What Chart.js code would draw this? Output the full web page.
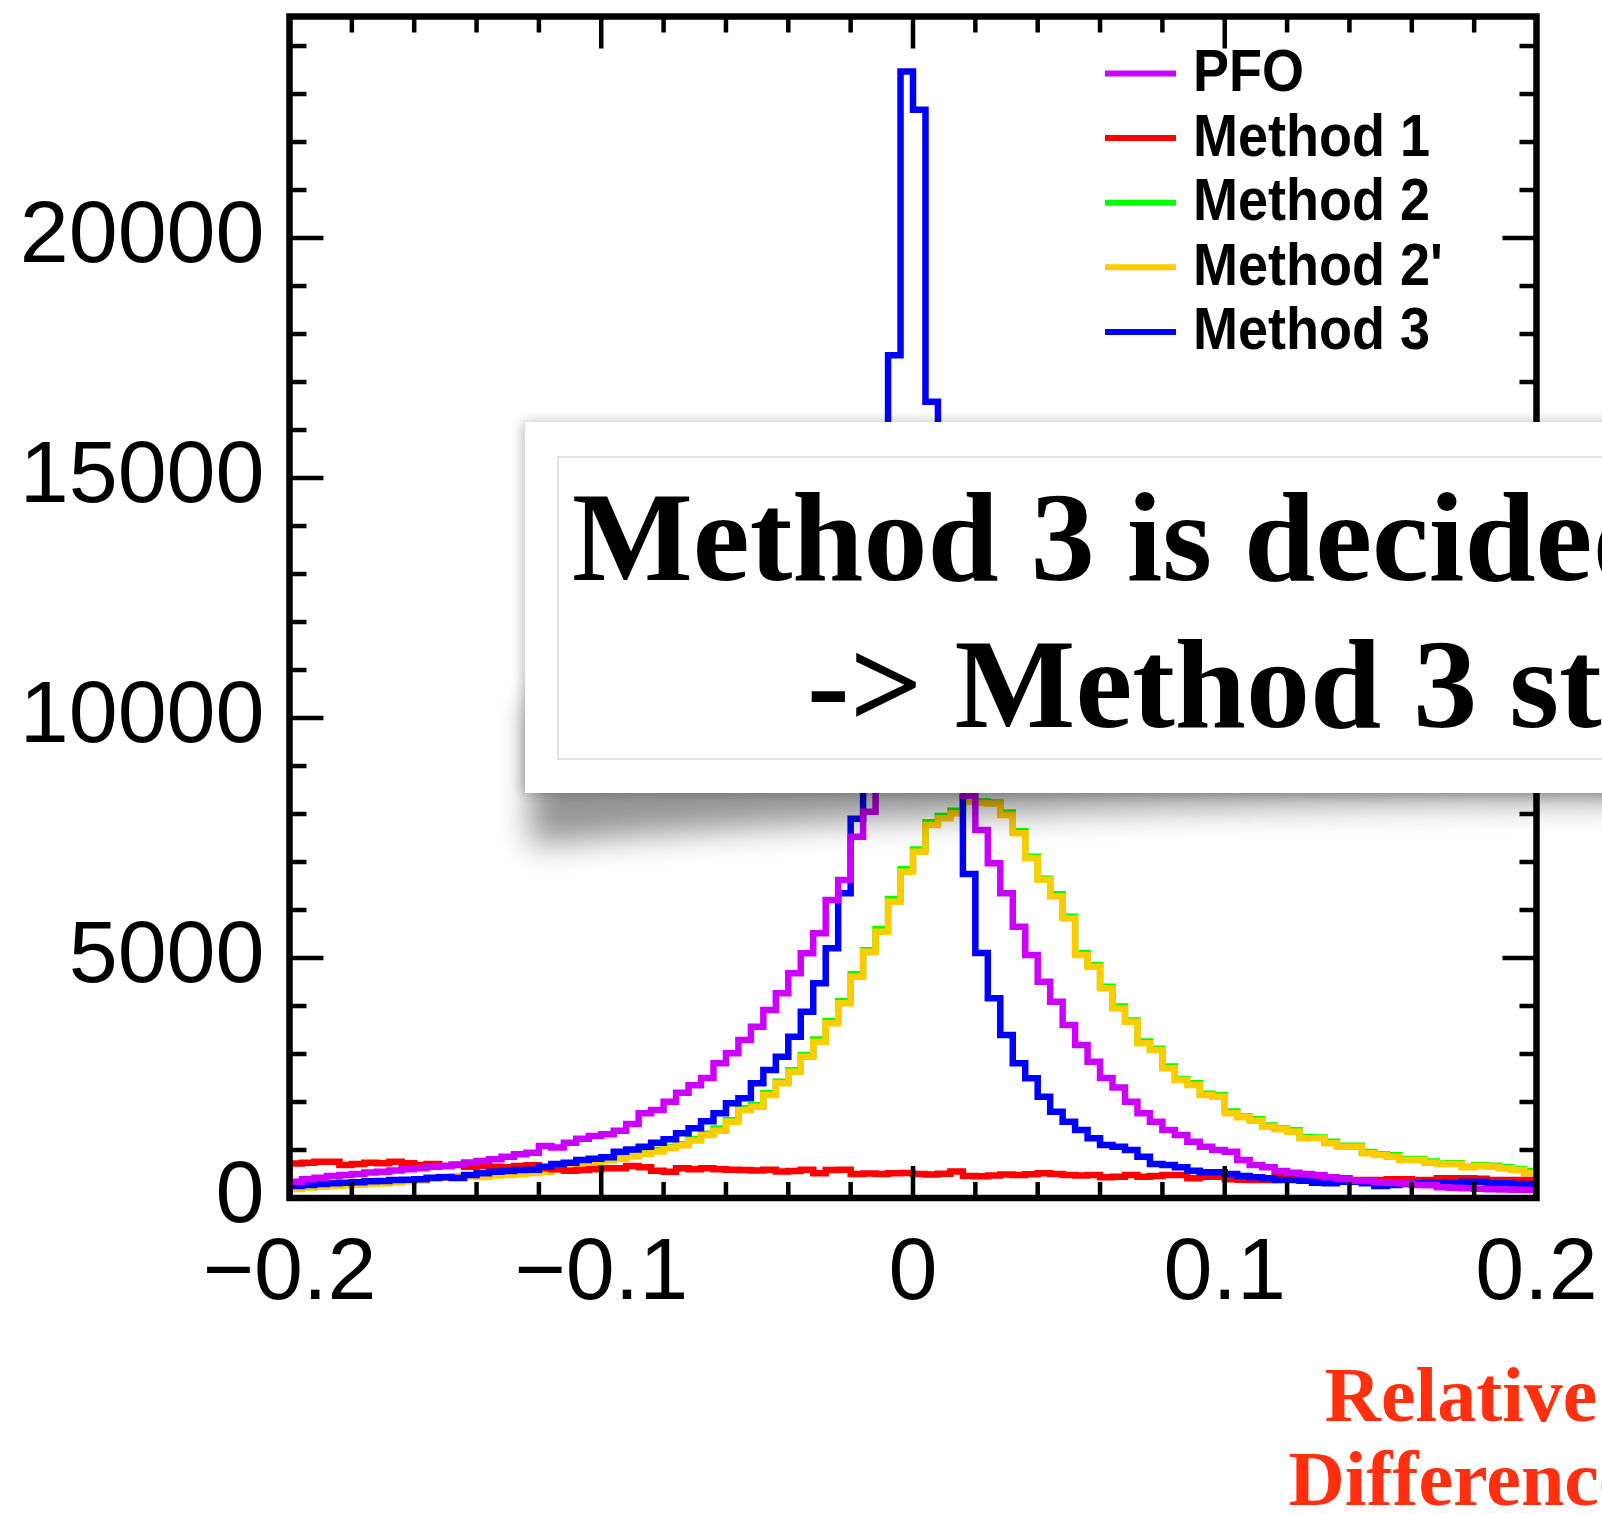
<!DOCTYPE html>
<html>
<head>
<meta charset="utf-8">
<script src="https://cdn.jsdelivr.net/npm/chart.js@4.4.1/dist/chart.umd.min.js"></script>
<style>
html, body { margin: 0; padding: 0; background: #fff; overflow: hidden; }
</style>
</head>
<body>
<canvas id="canva" width="1602" height="1513"></canvas>
<script>
const ctx = document.getElementById('canva');

// histogram range, 100 bins
const xLow = -0.2;
const xHigh = 0.2;

const xTickValues = [-0.2, -0.1, 0, 0.1, 0.2];
const xTickLabels = ['\u22120.2', '\u22120.1', '0', '0.1', '0.2'];
const yTickValues = [0, 5000, 10000, 15000, 20000];
const yTickLabels = ['0', '5000', '10000', '15000', '20000'];

const seriesNames = ['PFO', 'Method 1', 'Method 2', "Method 2'", 'Method 3'];
const seriesColors = ['#cc00ff', '#ff0000', '#00ff00', '#ffcc00', '#0000ff'];

const pfo = [340, 390, 420, 458, 480, 500, 530, 549, 575, 600,
  618, 650, 667, 700, 740, 770, 805, 861, 910, 944,
  1083, 1050, 1153, 1236, 1290, 1330, 1403, 1542, 1764, 1833,
  2007, 2194, 2350, 2500, 2806, 3014, 3292, 3570, 3917, 4264,
  4681, 5098, 5514, 6209, 6625, 7528, 8049, 9300, 10600, 11800,
  12300, 11900, 10700, 9400, 8380, 7667, 6972, 6347, 5653, 5063,
  4507, 4090, 3604, 3188, 2840, 2500, 2300, 2007, 1764, 1590,
  1417, 1313, 1174, 1069, 1000, 965, 792, 688, 639, 563,
  528, 500, 472, 431, 396, 361, 355, 330, 319, 300,
  271, 265, 222, 215, 201, 195, 181, 178, 170, 165];

const method1 = [720, 736, 757, 757, 687, 708, 736, 722, 757, 722,
  687, 708, 667, 687, 653, 667, 653, 639, 667, 680,
  618, 597, 569, 583, 597, 618, 618, 667, 639, 569,
  549, 618, 597, 620, 600, 590, 584, 575, 590, 550,
  560, 590, 514, 584, 590, 500, 510, 500, 514, 520,
  500, 490, 505, 550, 460, 455, 470, 490, 480, 495,
  514, 500, 480, 470, 480, 430, 445, 480, 445, 458,
  480, 480, 410, 445, 445, 390, 380, 375, 375, 445,
  445, 445, 445, 410, 410, 375, 375, 375, 389, 389,
  375, 375, 410, 410, 410, 400, 375, 375, 375, 375];

const method2 = [200, 225, 240, 255, 270, 280, 300, 312, 335, 360,
  375, 405, 440, 450, 460, 455, 480, 490, 510, 530,
  570, 610, 660, 680, 740, 790, 840, 900, 940, 1000,
  1060, 1120, 1230, 1340, 1450, 1620, 1870, 1930, 2180, 2420,
  2660, 2980, 3300, 3690, 4100, 4660, 5160, 5600, 6230, 6850,
  7260, 7830, 7960, 8070, 8290, 8260, 8240, 8030, 7640, 7110,
  6650, 6330, 5860, 5100, 4850, 4400, 3990, 3700, 3260, 3110,
  2740, 2480, 2390, 2170, 2140, 1800, 1700, 1640, 1510, 1450,
  1410, 1270, 1260, 1170, 1090, 1090, 960, 910, 890, 810,
  810, 760, 720, 725, 650, 690, 670, 640, 600, 560];

const method2p = [190, 220, 236, 250, 265, 275, 290, 306, 330, 350,
  365, 395, 420, 440, 455, 440, 470, 480, 500, 520,
  549, 600, 640, 660, 720, 780, 820, 870, 920, 970,
  1040, 1100, 1200, 1310, 1400, 1591, 1834, 1903, 2146, 2389,
  2632, 2945, 3257, 3639, 4056, 4612, 5132, 5549, 6174, 6799,
  7216, 7771, 7910, 8014, 8257, 8230, 8220, 7980, 7600, 7080,
  6630, 6280, 5830, 5060, 4820, 4370, 3950, 3674, 3222, 3083,
  2701, 2458, 2354, 2146, 2111, 1764, 1681, 1611, 1486, 1431,
  1382, 1243, 1243, 1139, 1069, 1069, 931, 896, 861, 792,
  792, 736, 708, 708, 639, 667, 653, 618, 583, 514];

const method3 = [250, 271, 290, 306, 320, 326, 350, 354, 375, 380,
  390, 420, 430, 415, 479, 514, 549, 560, 583, 590,
  653, 708, 736, 792, 820, 847, 965, 1012, 1069, 1153,
  1222, 1347, 1451, 1600, 1764, 1972, 2076, 2389, 2667, 2944,
  3361, 3882, 4472, 5201, 6347, 7900, 9600, 12800, 17560, 23470,
  22670, 16590, 12300, 9100, 6750, 5104, 4160, 3396, 2806, 2493,
  2111, 1799, 1590, 1417, 1243, 1104, 1070, 1000, 861, 709,
  688, 639, 570, 535, 535, 500, 459, 431, 410, 375,
  375, 361, 320, 306, 340, 340, 306, 250, 271, 292,
  306, 320, 320, 306, 340, 340, 306, 306, 292, 292];

const allSeries = [pfo, method1, method2, method2p, method3];
// drawing order: magenta on top, green at the bottom
const drawOrder = [0, 2, 4, 3, 1];

// turn bin contents into step points (left edge of every bin + closing edges)
function histPoints(counts) {
  var w = (xHigh - xLow) / counts.length;
  var pts = [{x: xLow, y: 0}];
  counts.forEach((c, i) => pts.push({x: xLow + i * w, y: c}));
  pts.push({x: xHigh, y: counts[counts.length - 1]});
  pts.push({x: xHigh, y: 0});
  return pts;
}

var datasets = allSeries.map((s, i) => ({
  label: seriesNames[i],
  data: histPoints(s),
  borderColor: seriesColors[i],
  borderWidth: 6.5,
  stepped: 'before',
  pointRadius: 0,
  fill: false,
  tension: 0,
  borderJoinStyle: 'miter',
  order: drawOrder[i]
}));

function seg(c, x1, y1, x2, y2) {
  c.beginPath();
  c.moveTo(x1, y1);
  c.lineTo(x2, y2);
  c.stroke();
}

// frame and inward ticks on all four sides
const framePlugin = {
  id: 'frame',
  afterDatasetsDraw(chart) {
    const c = chart.ctx;
    const a = chart.chartArea;
    const sx = chart.scales.x, sy = chart.scales.y;
    c.save();
    c.strokeStyle = '#000';
    c.lineWidth = 4.5;
    for (let i = 0; i <= 20; i++) {
      const px = sx.getPixelForValue(xLow + i * 0.02);
      const len = i % 5 === 0 ? 32 : 16;
      seg(c, px, a.bottom, px, a.bottom - len);
      seg(c, px, a.top, px, a.top + len);
    }
    for (let v = 0; v <= 24000; v += 1000) {
      const py = sy.getPixelForValue(v);
      const len = v % 5000 === 0 ? 34 : 17;
      seg(c, a.left, py, a.left + len, py);
      seg(c, a.right, py, a.right - len, py);
    }
    c.lineWidth = 6.5;
    c.strokeRect(a.left, a.top, a.right - a.left, a.bottom - a.top);
    c.restore();
  },
  afterDraw(chart) {
    const c = chart.ctx;
    c.save();

    // legend, top right inside the frame
    chart.data.datasets.forEach((ds, i) => {
      const yy = 73.5 + i * 64.6;
      c.strokeStyle = ds.borderColor;
      c.lineWidth = 6;
      seg(c, 1105, yy, 1176, yy);
      c.save();
      c.translate(1193, yy + 1);
      c.scale(0.9, 1);
      c.fillStyle = '#000';
      c.font = 'bold 60px "Liberation Sans", Arial, sans-serif';
      c.textBaseline = 'middle';
      c.fillText(ds.label, 0, 0);
      c.restore();
    });

    // curled shadow under the text box
    c.save();
    c.shadowColor = 'rgba(0,0,0,0.42)';
    c.shadowBlur = 32;
    c.shadowOffsetY = 3000;
    c.fillStyle = '#000';
    c.beginPath();
    c.moveTo(530, 700 - 3000);
    c.lineTo(1640, 700 - 3000);
    c.lineTo(1640, 800 - 3000);
    c.quadraticCurveTo(950, 803 - 3000, 530, 845 - 3000);
    c.closePath();
    c.fill();
    c.restore();

    // white box
    c.save();
    c.shadowColor = 'rgba(0,0,0,0.28)';
    c.shadowBlur = 12;
    c.shadowOffsetX = -2;
    c.fillStyle = '#fff';
    c.fillRect(525, 422, 1200, 371);
    c.restore();
    c.strokeStyle = '#e4e4e4';
    c.lineWidth = 2;
    c.strokeRect(558, 457, 1200, 302);

    c.fillStyle = '#000';
    c.font = 'bold 128px "Liberation Serif", "Times New Roman", serif';
    c.textBaseline = 'alphabetic';
    c.fillText('Method 3 is decided', 572, 580);
    c.fillText('-> Method 3 st', 807, 727);

    // axis title, red
    c.fillStyle = '#ff3010';
    c.font = 'bold 78px "Liberation Serif", "Times New Roman", serif';
    c.textAlign = 'center';
    c.fillText('Relative', 1461, 1421);
    c.fillText('Difference', 1461, 1505);
    c.restore();
  }
};

const tickFont = {family: '"Liberation Sans", Arial, sans-serif', size: 88};

canva = new Chart(ctx, {
  type: 'line',
  data: { datasets: datasets },
  options: {
    responsive: false,
    animation: false,
    devicePixelRatio: 1,
    events: [],
    layout: { padding: { left: 0, right: 65.5, top: 16.5, bottom: 0 } },
    plugins: {
      legend: { display: false },
      tooltip: { enabled: false },
      title: { display: false }
    },
    scales: {
      x: {
        type: 'linear',
        min: xLow,
        max: xHigh,
        afterBuildTicks: s => { s.ticks = xTickValues.map(v => ({value: v})); },
        afterFit: s => { s.height = 315; s.paddingLeft = 0; s.paddingRight = 0; },
        grid: { display: false, drawTicks: false },
        border: { display: false },
        ticks: {
          autoSkip: false,
          maxRotation: 0,
          padding: 24,
          color: '#000',
          font: tickFont,
          callback: (v, i) => xTickLabels[i]
        }
      },
      y: {
        min: 0,
        max: 24615,
        afterBuildTicks: s => { s.ticks = yTickValues.map(v => ({value: v})); },
        afterFit: s => { s.width = 289.5; s.paddingTop = 0; s.paddingBottom = 0; },
        grid: { display: false, drawTicks: false },
        border: { display: false },
        ticks: {
          autoSkip: false,
          padding: 25,
          color: '#000',
          font: tickFont,
          callback: (v, i) => yTickLabels[i]
        }
      }
    }
  },
  plugins: [framePlugin]
});
</script>
</body>
</html>
